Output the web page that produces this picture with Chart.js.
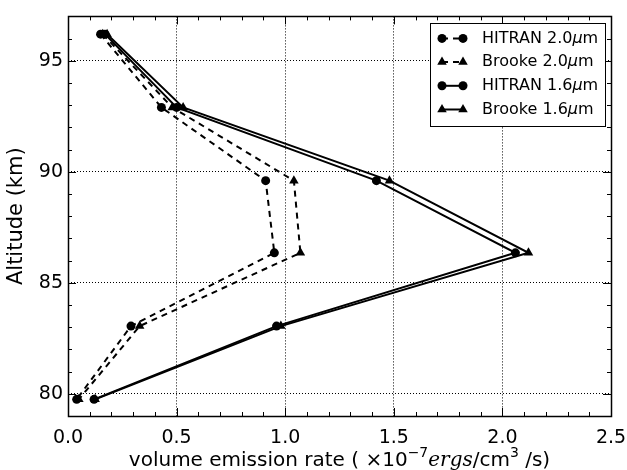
<!DOCTYPE html>
<html>
<head>
<meta charset="utf-8">
<script src="https://cdn.jsdelivr.net/npm/chart.js@4/dist/chart.umd.min.js"></script>
<style>
    html, body { margin: 0; padding: 0; background: #fff; }
    #wrap { width: 627px; height: 470px; }
</style>
</head>
<body>
<div id="wrap"><canvas id="chart"></canvas></div>
<script>
    // altitude of each profile point (km)
    const altitude = [96.2, 92.9, 89.6, 86.35, 83.05, 79.75];

    // volume emission rate, x10^-7 ergs/cm3/s
    const hitran20 = [0.15, 0.43, 0.91, 0.95, 0.29, 0.04];
    const brooke20 = [0.16, 0.48, 1.04, 1.07, 0.33, 0.05];
    const hitran16 = [0.17, 0.50, 1.42, 2.06, 0.96, 0.12];
    const brooke16 = [0.18, 0.53, 1.48, 2.12, 0.98, 0.125];

    const seriesNames = ['HITRAN 2.0', 'Brooke 2.0', 'HITRAN 1.6', 'Brooke 1.6'];
    const seriesValues = [hitran20, brooke20, hitran16, brooke16];
    const seriesDash = [[6, 5], [6, 5], [], []];
    const seriesMarker = ['circle', 'triangle', 'circle', 'triangle'];

    const xTicks = [0, 0.5, 1.0, 1.5, 2.0, 2.5];
    const yTicks = [80, 85, 90, 95];

    const FONT = 'DejaVu Sans';

    const datasets = seriesValues.map((vals, i) => ({
        label: seriesNames[i],
        data: vals.map((v, k) => ({x: v, y: altitude[k]})),
        showLine: true,
        borderColor: '#000',
        backgroundColor: '#000',
        borderWidth: 2,
        borderDash: seriesDash[i],
        pointStyle: seriesMarker[i],
        pointRadius: seriesMarker[i] === 'circle' ? 4.5 : 5.5,
        pointBorderWidth: 0,
        tension: 0
    }));

    // inward ticks on all four sides + solid frame
    const frameTicks = {
        id: 'frameTicks',
        afterDraw(chart) {
            const {ctx, chartArea: a} = chart;
            const xs = chart.scales.x, ys = chart.scales.y;
            ctx.save();
            ctx.strokeStyle = '#000';
            ctx.lineWidth = 1;
            ctx.beginPath();
            for (let i = 0; i <= 25; i++) {
                const px = Math.round(xs.getPixelForValue(i / 10)) + 0.5;
                const len = i % 5 === 0 ? 8 : 4;
                ctx.moveTo(px, a.bottom); ctx.lineTo(px, a.bottom - len);
                ctx.moveTo(px, a.top); ctx.lineTo(px, a.top + len);
            }
            for (let v = 79; v <= 97; v++) {
                const py = Math.round(ys.getPixelForValue(v)) + 0.5;
                const len = v % 5 === 0 ? 8 : 4;
                ctx.moveTo(a.left, py); ctx.lineTo(a.left + len, py);
                ctx.moveTo(a.right, py); ctx.lineTo(a.right - len, py);
            }
            ctx.stroke();
            ctx.lineWidth = 1.5;
            ctx.strokeRect(Math.round(a.left) + 0.5, Math.round(a.top) + 0.5,
                Math.round(a.right - a.left), Math.round(a.bottom - a.top));
            ctx.restore();
        }
    };

    // matplotlib style legend box, two markers per entry
    const boxLegend = {
        id: 'boxLegend',
        afterDraw(chart) {
            const {ctx, chartArea: a} = chart;
            const right = a.right - 6, top = a.top + 7;
            const w = 175, rowH = 23.7, h = 103;
            const left = right - w;
            ctx.save();
            ctx.fillStyle = '#fff';
            ctx.fillRect(left, top, w, h);
            ctx.strokeStyle = '#000';
            ctx.lineWidth = 1;
            ctx.strokeRect(Math.round(left) + 0.5, Math.round(top) + 0.5, w, h);
            chart.data.datasets.forEach((ds, i) => {
                const y = top + 15 + i * rowH;
                const x1 = left + 12, x2 = left + 33;
                ctx.strokeStyle = '#000';
                ctx.fillStyle = '#000';
                ctx.lineWidth = 2;
                ctx.setLineDash(ds.borderDash);
                ctx.beginPath();
                ctx.moveTo(x1, y); ctx.lineTo(x2, y);
                ctx.stroke();
                ctx.setLineDash([]);
                const opt = {pointStyle: ds.pointStyle, radius: ds.pointRadius, borderWidth: 0, rotation: 0};
                Chart.helpers.drawPoint(ctx, opt, x1, y);
                Chart.helpers.drawPoint(ctx, opt, x2, y);
                // label text, mathtext-like italic mu
                let tx = left + 52;
                ctx.textBaseline = 'middle';
                ctx.font = '16px ' + FONT;
                ctx.fillText(ds.label, tx, y);
                tx += ctx.measureText(ds.label).width;
                ctx.font = 'italic 16px ' + FONT;
                ctx.fillText('\u03bc', tx, y);
                tx += ctx.measureText('\u03bc').width;
                ctx.font = '16px ' + FONT;
                ctx.fillText('m', tx, y);
            });
            ctx.restore();
        }
    };

    // x axis title with superscripts and italic ergs
    const xTitle = {
        id: 'xTitle',
        afterDraw(chart) {
            const {ctx, chartArea: a} = chart;
            const parts = [
                {t: 'volume emission rate ( ', f: '20px ' + FONT, dy: 0},
                {t: '\u00d710', f: '20px ' + FONT, dy: 0},
                {t: '\u22127', f: '14px ' + FONT, dy: -9},
                {t: 'ergs', f: 'italic 20px DejaVu Serif', dy: 0},
                {t: '/cm', f: '20px ' + FONT, dy: 0},
                {t: '3', f: '14px ' + FONT, dy: -9},
                {t: ' /s)', f: '20px ' + FONT, dy: 0}
            ];
            ctx.save();
            ctx.fillStyle = '#000';
            ctx.textBaseline = 'alphabetic';
            let total = 0;
            parts.forEach(p => { ctx.font = p.f; p.w = ctx.measureText(p.t).width; total += p.w; });
            let x = (a.left + a.right) / 2 - total / 2;
            const base = chart.height - 4;
            parts.forEach(p => {
                ctx.font = p.f;
                ctx.fillText(p.t, x, base + p.dy);
                x += p.w;
            });
            ctx.restore();
        }
    };

    new Chart(document.getElementById('chart'), {
        type: 'scatter',
        data: {datasets: datasets},
        options: {
            responsive: true,
            maintainAspectRatio: false,
            animation: false,
            layout: {padding: {top: 12, right: 16, left: 0, bottom: 0}},
            plugins: {
                legend: {display: false},
                tooltip: {enabled: false}
            },
            scales: {
                x: {
                    type: 'linear',
                    min: 0,
                    max: 2.5,
                    afterBuildTicks: s => { s.ticks = xTicks.map(v => ({value: v})); },
                    afterFit: s => { s.height = 54; s.paddingRight = 0; },
                    ticks: {
                        color: '#000',
                        font: {family: FONT, size: 19},
                        padding: 11,
                        maxRotation: 0,
                        callback: v => v.toFixed(1)
                    },
                    grid: {color: '#000', lineWidth: 1, drawTicks: false},
                    border: {display: false, dash: [1, 2]}
                },
                y: {
                    type: 'linear',
                    min: 79,
                    max: 97,
                    afterBuildTicks: s => { s.ticks = yTicks.map(v => ({value: v})); },
                    afterFit: s => { s.width = 68; },
                    ticks: {
                        color: '#000',
                        font: {family: FONT, size: 19},
                        padding: 5
                    },
                    title: {
                        display: true,
                        text: 'Altitude (km)',
                        color: '#000',
                        font: {family: FONT, size: 21},
                        padding: {top: 4, bottom: 0}
                    },
                    grid: {color: '#000', lineWidth: 1, drawTicks: false},
                    border: {display: false, dash: [1, 2]}
                }
            }
        },
        plugins: [frameTicks, boxLegend, xTitle]
    });
</script>
</body>
</html>
